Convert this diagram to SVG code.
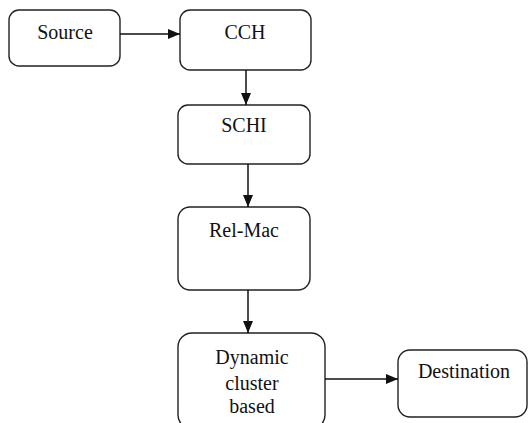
<svg xmlns="http://www.w3.org/2000/svg" width="528" height="423" viewBox="0 0 528 423">
<defs>
<style>
.box{fill:#fff;stroke:#222;stroke-width:1.4}
.t{font-family:"Liberation Serif",serif;font-size:20px;fill:#111;text-anchor:middle}
.c{stroke:#111;stroke-width:1.5;fill:none}
</style>
<marker id="ah" markerWidth="12" markerHeight="10" refX="12" refY="5" orient="auto" markerUnits="userSpaceOnUse">
<path d="M0,0 L12,5 L0,10 Z" fill="#111"/>
</marker>
</defs>
<rect width="528" height="423" fill="#fff"/>
<g id="source"><rect class="box" x="9" y="10" width="111" height="56" rx="10"/><text class="t" x="65" y="39">Source</text></g>
<g id="cch"><rect class="box" x="180" y="10" width="131" height="60" rx="10"/><text class="t" x="245" y="39">CCH</text></g>
<g id="schi"><rect class="box" x="178" y="105" width="132" height="59" rx="10"/><text class="t" x="244" y="132">SCHI</text></g>
<g id="relmac"><rect class="box" x="178" y="207" width="132" height="83" rx="12"/><text class="t" x="244" y="237">Rel-Mac</text></g>
<g id="dynamic"><rect class="box" x="178" y="333" width="147" height="96" rx="14"/><text class="t" x="252" y="364">Dynamic</text><text class="t" x="252" y="390">cluster</text><text class="t" x="252" y="413">based</text></g>
<g id="destination"><rect class="box" x="398" y="350" width="129" height="67" rx="12"/><text class="t" x="464" y="378">Destination</text></g>
<g id="connectors">
<line class="c" x1="120" y1="34" x2="180" y2="34" marker-end="url(#ah)"/>
<line class="c" x1="246" y1="70" x2="246" y2="105" marker-end="url(#ah)"/>
<line class="c" x1="248" y1="164" x2="248" y2="207" marker-end="url(#ah)"/>
<line class="c" x1="248" y1="290" x2="248" y2="333" marker-end="url(#ah)"/>
<line class="c" x1="325" y1="379" x2="398" y2="379" marker-end="url(#ah)"/>
</g>
</svg>
